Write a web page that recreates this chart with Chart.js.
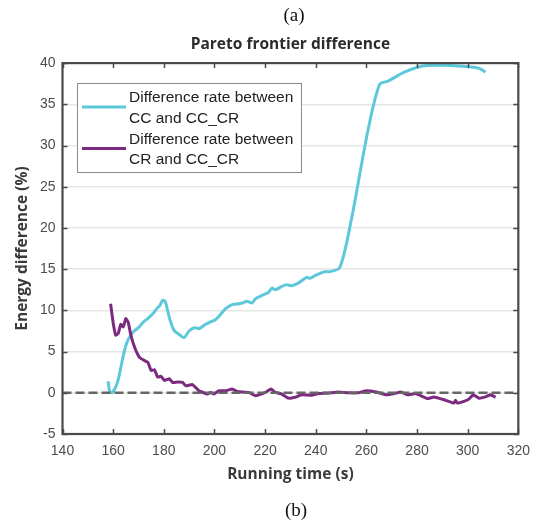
<!DOCTYPE html>
<html>
<head>
<meta charset="utf-8">
<script src="https://cdn.jsdelivr.net/npm/chart.js@4/dist/chart.umd.min.js"></script>
<style>
  html, body { margin: 0; padding: 0; background: #fff; }
  #wrap { position: relative; width: 539px; height: 523px; }
  #chart { position: absolute; left: 0; top: 0; }
  .panel-tag {
    position: absolute; width: 60px; text-align: center;
    font-family: 'Liberation Serif', 'DejaVu Serif', serif;
    font-size: 19px; color: #111; line-height: 20px;
  }
</style>
</head>
<body>
<div id="wrap">
  <canvas id="chart" width="539" height="523"></canvas>
  <div class="panel-tag" style="left:264px; top:5px;">(a)</div>
  <div class="panel-tag" style="left:266px; top:500px;">(b)</div>
</div>
<script>
// running time (s) and energy difference (%) for each comparison
const ccTime = [158, 158.6, 159.5, 161, 162, 163, 164, 165, 166, 168,
  170, 172, 174, 176, 177.5, 178.5, 179.5, 180.5, 181.5, 182.5,
  184, 186, 188, 190, 192, 194, 196.5, 198.5, 200.5, 202.4,
  204.4, 207, 209.6, 210.9, 212.9, 214.8, 216.2, 219.4, 221.4, 222.7,
  224, 226.6, 228.5, 230.5, 233.1, 236.4, 237.7, 240.3, 243.6, 245.6,
  249.5, 254, 260.6, 265.2, 268.4, 275, 280.2, 284.1, 293.3, 302.4,
  305, 307];
const ccRate = [1.4, 0.2, 0, 0.7, 1.6, 3, 4.5, 5.7, 6.5, 7.4,
  7.9, 8.6, 9.1, 9.7, 10.3, 10.6, 11.2, 11.1, 10.0, 8.8,
  7.6, 7.1, 6.7, 7.5, 7.9, 7.8, 8.3, 8.6, 8.9, 9.5,
  10.2, 10.7, 10.8, 10.9, 11.1, 10.9, 11.4, 11.9, 12.2, 12.7,
  12.5, 12.9, 13.1, 13.0, 13.3, 14.0, 13.9, 14.3, 14.7, 14.7,
  15.2, 20.9, 31.8, 37.4, 37.8, 38.9, 39.5, 39.7, 39.7, 39.5,
  39.3, 38.9];

const crTime = [159, 160, 161, 162, 163, 164, 165, 165.5, 166, 167,
  168.5, 170.4, 172.4, 173.7, 175, 176.3, 177.6, 178.9, 180.2, 182.2,
  183.5, 185.4, 187.4, 188.7, 191.3, 193.9, 197.2, 198.5, 199.8, 201.8,
  204.4, 207, 209, 213.5, 216.2, 220.1, 222.4, 224, 226.6, 229.2,
  231.8, 234.4, 238.4, 241, 244.9, 248.8, 252.7, 256.7, 259.9, 263.8,
  267.8, 271.1, 273.6, 276.3, 279.5, 284.1, 286.7, 290.7, 294.6, 295.2,
  295.9, 298.5, 300.5, 302.2, 304.4, 307, 309, 311];
const crRate = [10.8, 8.5, 7, 7.2, 8.3, 8, 9, 8.8, 8.5, 7,
  5.5, 4.3, 3.9, 3.7, 2.7, 2.8, 1.9, 2.0, 1.5, 1.7,
  1.25, 1.3, 1.25, 0.85, 1.0, 0.25, -0.15, 0.05, -0.15, 0.25,
  0.25, 0.45, 0.15, 0.05, -0.35, 0.05, 0.45, 0.05, -0.15, -0.65,
  -0.55, -0.25, -0.3, -0.1, -0.05, 0.1, 0, 0, 0.25, 0.1,
  -0.25, -0.1, 0.1, -0.25, -0.1, -0.7, -0.5, -0.85, -1.25, -0.9,
  -1.25, -1.05, -0.77, -0.25, -0.65, -0.5, -0.25, -0.55];

const seriesLabels = [
  ['Difference rate between', 'CC and CC_CR'],
  ['Difference rate between', 'CR and CC_CR'],
];
const baselineTime = [140, 320];
const baselineRate = [0, 0];

const xTicks = [140, 160, 180, 200, 220, 240, 260, 280, 300, 320];
const yTicks = [-5, 0, 5, 10, 15, 20, 25, 30, 35, 40];

const toPoints = (xs, ys) => xs.map((x, i) => ({ x: x, y: ys[i] }));

const AXIS_COLOR = '#4a4a4a';
const BOLD_FONT = '"Open Sans", Lato, sans-serif';

// box around the axes plus inward tick marks
const boxPlugin = {
  id: 'axesBox',
  afterDatasetsDraw(chart) {
    const { ctx, chartArea: a, scales } = chart;
    ctx.save();
    ctx.strokeStyle = AXIS_COLOR;
    ctx.lineWidth = 1.5;
    ctx.beginPath();
    xTicks.forEach((t) => {
      const px = Math.round(scales.x.getPixelForValue(t)) + 0.5;
      ctx.moveTo(px, a.top); ctx.lineTo(px, a.top + 5);
      ctx.moveTo(px, a.bottom); ctx.lineTo(px, a.bottom - 5);
    });
    yTicks.forEach((t) => {
      const py = Math.round(scales.y.getPixelForValue(t)) + 0.5;
      ctx.moveTo(a.left, py); ctx.lineTo(a.left + 5, py);
      ctx.moveTo(a.right, py); ctx.lineTo(a.right - 5, py);
    });
    ctx.stroke();
    ctx.lineWidth = 2.2;
    ctx.strokeRect(a.left, a.top, a.right - a.left, a.bottom - a.top);
    ctx.restore();
  },
};

// two-line legend entries inside a framed box
const legendPlugin = {
  id: 'boxLegend',
  afterDraw(chart) {
    const { ctx } = chart;
    const bx = 77.5, by = 83.5, bw = 224, bh = 89;
    ctx.save();
    ctx.fillStyle = '#fff';
    ctx.fillRect(bx, by, bw, bh);
    ctx.strokeStyle = '#8a8a8a';
    ctx.lineWidth = 1;
    ctx.strokeRect(bx, by, bw, bh);
    ctx.font = '15.5px "Liberation Sans", Arial, sans-serif';
    ctx.textBaseline = 'middle';
    ctx.fillStyle = '#222';
    seriesLabels.forEach((lines, i) => {
      const ds = chart.data.datasets[i];
      const top = by + 14.5 + i * 41.5;
      ctx.strokeStyle = ds.borderColor;
      ctx.lineWidth = 3;
      ctx.beginPath();
      ctx.moveTo(82, top + 9);
      ctx.lineTo(126, top + 9);
      ctx.stroke();
      lines.forEach((txt, j) => ctx.fillText(txt, 129, top + j * 20.5));
    });
    ctx.restore();
  },
};

new Chart(document.getElementById('chart'), {
  type: 'line',
  data: {
    datasets: [
      {
        label: seriesLabels[0].join(' '),
        data: toPoints(ccTime, ccRate),
        borderColor: '#5ec8db',
        borderWidth: 3,
        pointRadius: 0,
        tension: 0.3,
        order: 2,
      },
      {
        label: seriesLabels[1].join(' '),
        data: toPoints(crTime, crRate),
        borderColor: '#7b2a80',
        borderWidth: 3,
        pointRadius: 0,
        tension: 0.1,
        order: 1,
      },
      {
        label: 'zero',
        data: toPoints(baselineTime, baselineRate),
        borderColor: '#666',
        borderWidth: 2.5,
        borderDash: [9, 4],
        pointRadius: 0,
        order: 0,
      },
    ],
  },
  options: {
    responsive: false,
    animation: false,
    layout: { padding: { left: 0, right: 18, top: 0, bottom: 0 } },
    plugins: {
      legend: { display: false },
      tooltip: { enabled: false },
      title: {
        display: true,
        text: 'Pareto frontier difference',
        fullSize: false,
        color: '#2b2b2b',
        font: { family: BOLD_FONT, size: 15.5, weight: 'bold', lineHeight: 1.2 },
        padding: { top: 35.5, bottom: 9 },
      },
    },
    scales: {
      x: {
        type: 'linear',
        min: 140,
        max: 320,
        afterFit: (s) => { s.height = 89; },
        afterBuildTicks: (s) => { s.ticks = xTicks.map((v) => ({ value: v })); },
        grid: { display: false, drawTicks: false },
        border: { display: false },
        ticks: {
          padding: 9,
          maxRotation: 0,
          color: '#4d4d4d',
          font: { family: '"Liberation Sans", Arial, sans-serif', size: 14 },
        },
        title: {
          display: true,
          text: 'Running time (s)',
          color: '#3a3a3a',
          font: { family: BOLD_FONT, size: 15.5, weight: 'bold' },
          padding: { top: 0, bottom: 39 },
        },
      },
      y: {
        min: -5,
        max: 40,
        afterFit: (s) => { s.width = 62.5; },
        afterBuildTicks: (s) => { s.ticks = yTicks.map((v) => ({ value: v })); },
        grid: { color: '#e6e6e6', lineWidth: 1.5, drawTicks: false },
        border: { display: false },
        ticks: {
          padding: 7,
          color: '#4d4d4d',
          font: { family: '"Liberation Sans", Arial, sans-serif', size: 14 },
        },
        title: {
          display: true,
          text: 'Energy difference (%)',
          color: '#3a3a3a',
          font: { family: BOLD_FONT, size: 15.5, weight: 'bold' },
          padding: { top: 13, bottom: 0 },
        },
      },
    },
  },
  plugins: [boxPlugin, legendPlugin],
});
</script>
</body>
</html>
